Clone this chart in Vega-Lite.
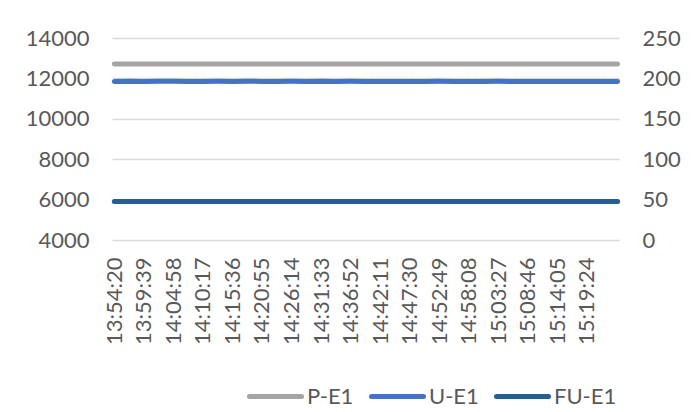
{
  "$schema": "https://vega.github.io/schema/vega-lite/v6.json",
  "width": 507,
  "height": 202,
  "autosize": {"type": "none"},
  "padding": {"left": 112, "top": 38, "right": 80, "bottom": 172},
  "background": "white",
  "config": {
    "view": {"stroke": null},
    "font": "Lato",
    "axis": {"labelFont": "Lato", "labelColor": "#595959", "labelFontSize": 22, "domain": false, "ticks": false, "tickSize": 0, "title": null},
    "legend": {"labelFont": "Lato"}
  },
  "data": {
    "format": {"parse": {"t": "date:'%H:%M:%S'"}},
    "values": [
      {"t": "13:54:20", "P-E1": 12712, "U-E1": 196.3, "FU-E1": 47.6},
      {"t": "13:57:00", "P-E1": 12710, "U-E1": 196.5, "FU-E1": 47.6},
      {"t": "13:59:39", "P-E1": 12713, "U-E1": 196.2, "FU-E1": 47.6},
      {"t": "14:02:18", "P-E1": 12711, "U-E1": 196.4, "FU-E1": 47.6},
      {"t": "14:04:58", "P-E1": 12709, "U-E1": 196.6, "FU-E1": 47.6},
      {"t": "14:07:37", "P-E1": 12712, "U-E1": 196.3, "FU-E1": 47.6},
      {"t": "14:10:17", "P-E1": 12711, "U-E1": 196.2, "FU-E1": 47.6},
      {"t": "14:12:56", "P-E1": 12710, "U-E1": 196.4, "FU-E1": 47.6},
      {"t": "14:15:36", "P-E1": 12712, "U-E1": 196.3, "FU-E1": 47.6},
      {"t": "14:18:15", "P-E1": 12711, "U-E1": 196.5, "FU-E1": 47.6},
      {"t": "14:20:55", "P-E1": 12710, "U-E1": 196.2, "FU-E1": 47.6},
      {"t": "14:23:34", "P-E1": 12713, "U-E1": 196.3, "FU-E1": 47.6},
      {"t": "14:26:14", "P-E1": 12711, "U-E1": 196.4, "FU-E1": 47.6},
      {"t": "14:28:53", "P-E1": 12710, "U-E1": 196.2, "FU-E1": 47.6},
      {"t": "14:31:33", "P-E1": 12712, "U-E1": 196.5, "FU-E1": 47.6},
      {"t": "14:34:12", "P-E1": 12711, "U-E1": 196.3, "FU-E1": 47.6},
      {"t": "14:36:52", "P-E1": 12709, "U-E1": 196.4, "FU-E1": 47.6},
      {"t": "14:39:31", "P-E1": 12712, "U-E1": 196.2, "FU-E1": 47.6},
      {"t": "14:42:11", "P-E1": 12711, "U-E1": 196.3, "FU-E1": 47.6},
      {"t": "14:44:50", "P-E1": 12710, "U-E1": 196.1, "FU-E1": 47.6},
      {"t": "14:47:30", "P-E1": 12712, "U-E1": 196.3, "FU-E1": 47.6},
      {"t": "14:50:09", "P-E1": 12711, "U-E1": 196.2, "FU-E1": 47.6},
      {"t": "14:52:49", "P-E1": 12710, "U-E1": 196.4, "FU-E1": 47.6},
      {"t": "14:55:28", "P-E1": 12712, "U-E1": 196.2, "FU-E1": 47.6},
      {"t": "14:58:08", "P-E1": 12711, "U-E1": 196.1, "FU-E1": 47.6},
      {"t": "15:00:47", "P-E1": 12710, "U-E1": 196.3, "FU-E1": 47.6},
      {"t": "15:03:27", "P-E1": 12712, "U-E1": 196.4, "FU-E1": 47.6},
      {"t": "15:06:06", "P-E1": 12711, "U-E1": 196.2, "FU-E1": 47.6},
      {"t": "15:08:46", "P-E1": 12710, "U-E1": 196.3, "FU-E1": 47.6},
      {"t": "15:11:25", "P-E1": 12712, "U-E1": 196.1, "FU-E1": 47.6},
      {"t": "15:14:05", "P-E1": 12711, "U-E1": 196.3, "FU-E1": 47.6},
      {"t": "15:16:44", "P-E1": 12710, "U-E1": 196.2, "FU-E1": 47.6},
      {"t": "15:19:24", "P-E1": 12712, "U-E1": 196.3, "FU-E1": 47.6},
      {"t": "15:22:03", "P-E1": 12711, "U-E1": 196.2, "FU-E1": 47.6},
      {"t": "15:24:57", "P-E1": 12710, "U-E1": 196.3, "FU-E1": 47.6}
    ]
  },
  "transform": [{"fold": ["P-E1", "U-E1", "FU-E1"], "as": ["series", "value"]}],
  "encoding": {
    "x": {
      "field": "t",
      "type": "temporal",
      "scale": {"domain": [
        {"year": 1900, "month": 1, "date": 1, "hours": 13, "minutes": 53, "seconds": 55},
        {"year": 1900, "month": 1, "date": 1, "hours": 15, "minutes": 25, "seconds": 12}
      ]},
      "axis": {
        "values": [
          {"year": 1900, "month": 1, "date": 1, "hours": 13, "minutes": 54, "seconds": 20},
          {"year": 1900, "month": 1, "date": 1, "hours": 13, "minutes": 59, "seconds": 39},
          {"year": 1900, "month": 1, "date": 1, "hours": 14, "minutes": 4, "seconds": 58},
          {"year": 1900, "month": 1, "date": 1, "hours": 14, "minutes": 10, "seconds": 17},
          {"year": 1900, "month": 1, "date": 1, "hours": 14, "minutes": 15, "seconds": 36},
          {"year": 1900, "month": 1, "date": 1, "hours": 14, "minutes": 20, "seconds": 55},
          {"year": 1900, "month": 1, "date": 1, "hours": 14, "minutes": 26, "seconds": 14},
          {"year": 1900, "month": 1, "date": 1, "hours": 14, "minutes": 31, "seconds": 33},
          {"year": 1900, "month": 1, "date": 1, "hours": 14, "minutes": 36, "seconds": 52},
          {"year": 1900, "month": 1, "date": 1, "hours": 14, "minutes": 42, "seconds": 11},
          {"year": 1900, "month": 1, "date": 1, "hours": 14, "minutes": 47, "seconds": 30},
          {"year": 1900, "month": 1, "date": 1, "hours": 14, "minutes": 52, "seconds": 49},
          {"year": 1900, "month": 1, "date": 1, "hours": 14, "minutes": 58, "seconds": 8},
          {"year": 1900, "month": 1, "date": 1, "hours": 15, "minutes": 3, "seconds": 27},
          {"year": 1900, "month": 1, "date": 1, "hours": 15, "minutes": 8, "seconds": 46},
          {"year": 1900, "month": 1, "date": 1, "hours": 15, "minutes": 14, "seconds": 5},
          {"year": 1900, "month": 1, "date": 1, "hours": 15, "minutes": 19, "seconds": 24}
        ],
        "format": "%H:%M:%S",
        "labelAngle": -90,
        "labelPadding": 17,
        "labelOverlap": false,
        "labelFlush": false,
        "grid": false
      }
    },
    "color": {
      "field": "series",
      "type": "nominal",
      "scale": {"domain": ["P-E1", "U-E1", "FU-E1"], "range": ["#A5A5A5", "#4472C4", "#255E91"]},
      "legend": {
        "orient": "none",
        "direction": "horizontal",
        "legendX": 135,
        "legendY": 330,
        "title": null,
        "padding": 0,
        "gridAlign": "none",
        "symbolType": "stroke",
        "symbolSize": 2704,
        "symbolStrokeWidth": 5,
        "labelFontSize": 22,
        "labelColor": "#595959",
        "labelOffset": 3,
        "columnPadding": 7,
        "encode": {"symbols": {"update": {"strokeCap": {"value": "round"}}}}
      }
    }
  },
  "layer": [
    {
      "transform": [{"filter": "datum.series === 'P-E1'"}],
      "mark": {"type": "line", "strokeWidth": 5, "strokeCap": "round", "strokeJoin": "round"},
      "encoding": {
        "y": {
          "field": "value",
          "type": "quantitative",
          "scale": {"domain": [4000, 14000]},
          "axis": {
            "orient": "left",
            "values": [4000, 6000, 8000, 10000, 12000, 14000],
            "format": "d",
            "labelPadding": 23,
            "grid": true,
            "gridColor": "#D9D9D9",
            "gridWidth": 1.5
          }
        }
      }
    },
    {
      "transform": [{"filter": "datum.series !== 'P-E1'"}],
      "mark": {"type": "line", "strokeWidth": 5, "strokeCap": "round", "strokeJoin": "round"},
      "encoding": {
        "y": {
          "field": "value",
          "type": "quantitative",
          "scale": {"domain": [0, 250]},
          "axis": {
            "orient": "right",
            "values": [0, 50, 100, 150, 200, 250],
            "format": "d",
            "labelPadding": 23,
            "grid": false
          }
        }
      }
    }
  ],
  "resolve": {"scale": {"y": "independent"}}
}
